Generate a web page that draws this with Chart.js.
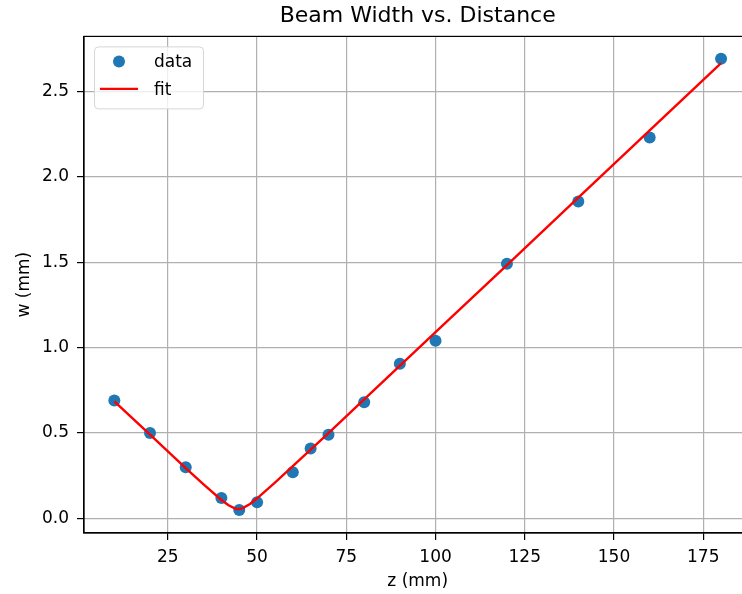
<!DOCTYPE html>
<html>
<head>
<meta charset="utf-8">
<script src="https://cdn.jsdelivr.net/npm/chart.js@4.4.1/dist/chart.umd.min.js"></script>
<style>
  html, body { margin: 0; padding: 0; background: #fff; overflow: hidden; }
  #wrap { width: 760px; height: 594px; }
</style>
</head>
<body>
<div id="wrap"><canvas id="grafico" width="760" height="594"></canvas></div>
<script>
// medidas: distancia z (mm) e largura do feixe w (mm)
const zDados = [10, 20, 30, 40, 45, 50, 60, 65, 70, 80, 90, 100, 120, 140, 160, 180];
const wDados = [0.69, 0.50, 0.30, 0.12, 0.05, 0.095, 0.27, 0.41, 0.49, 0.68, 0.905, 1.04, 1.49, 1.855, 2.23, 2.69];

// curva do ajuste
const zAjuste = [10, 20, 30, 35, 40, 42, 44, 45, 46, 48, 50, 55, 60, 70, 80, 100, 120, 140, 160, 180];
const wAjuste = [0.685, 0.49, 0.295, 0.20, 0.108, 0.077, 0.057, 0.055, 0.061, 0.085, 0.118, 0.21, 0.306, 0.50, 0.697, 1.09, 1.483, 1.877, 2.271, 2.665];

// ticks dos eixos
const xTicks = [25, 50, 75, 100, 125, 150, 175];
const yTicks = [0.0, 0.5, 1.0, 1.5, 2.0, 2.5];

const fonte = 'DejaVu Sans';

// moldura completa (matplotlib desenha os 4 lados)
const moldura = {
  id: 'moldura',
  afterDatasetsDraw(chart) {
    const { ctx, chartArea: a } = chart;
    ctx.save();
    ctx.strokeStyle = '#000';
    ctx.lineWidth = 1.2;
    ctx.strokeRect(a.left, a.top, a.right - a.left, a.bottom - a.top);
    ctx.restore();
  }
};

// legenda dentro da area do grafico, canto superior esquerdo
const legenda = {
  id: 'legenda',
  afterDraw(chart) {
    const { ctx, chartArea: a } = chart;
    const x0 = a.left + 10, y0 = a.top + 10, w = 109, h = 62;
    ctx.save();
    ctx.beginPath();
    ctx.roundRect(x0 + 0.5, y0 + 0.5, w, h, 4);
    ctx.fillStyle = 'rgba(255,255,255,0.8)';
    ctx.fill();
    ctx.strokeStyle = '#d6d6d6';
    ctx.lineWidth = 1;
    ctx.stroke();

    const ds = chart.data.datasets;
    // marcador dos dados
    ctx.beginPath();
    ctx.arc(x0 + 25, y0 + 15, 6, 0, Math.PI * 2);
    ctx.fillStyle = ds[0].backgroundColor;
    ctx.fill();
    // linha do ajuste
    ctx.beginPath();
    ctx.moveTo(x0 + 6, y0 + 42.5);
    ctx.lineTo(x0 + 44, y0 + 42.5);
    ctx.strokeStyle = ds[1].borderColor;
    ctx.lineWidth = 2.4;
    ctx.stroke();

    ctx.fillStyle = '#000';
    ctx.font = '17px "' + fonte + '"';
    ctx.textBaseline = 'middle';
    ctx.textAlign = 'left';
    ctx.fillText(ds[0].label, x0 + 60, y0 + 16);
    ctx.fillText(ds[1].label, x0 + 60, y0 + 44);
    ctx.restore();
  }
};

const ctx = document.getElementById('grafico').getContext('2d');
new Chart(ctx, {
  type: 'scatter',
  data: {
    datasets: [{
      label: 'data',
      data: zDados.map((z, i) => ({ x: z, y: wDados[i] })),
      backgroundColor: '#1f77b4',
      borderWidth: 0,
      pointRadius: 6,
      showLine: false,
      order: 1
    }, {
      label: 'fit',
      data: zAjuste.map((z, i) => ({ x: z, y: wAjuste[i] })),
      borderColor: '#ff0000',
      borderWidth: 2.4,
      pointRadius: 0,
      showLine: true,
      tension: 0,
      order: 0
    }]
  },
  options: {
    responsive: false,
    animation: false,
    layout: { padding: { left: 0, right: 8.6, top: 0, bottom: 0 } },
    plugins: {
      legend: { display: false },
      tooltip: { enabled: false },
      title: {
        display: true,
        fullSize: false, // centraliza sobre a area dos eixos
        text: 'Beam Width vs. Distance',
        color: '#000',
        font: { family: fonte, size: 22, weight: 'normal' },
        padding: { top: 3, bottom: 7 }
      }
    },
    scales: {
      x: { // horizontal
        type: 'linear',
        min: 1.5,
        max: 188.5,
        afterBuildTicks: s => { s.ticks = xTicks.map(v => ({ value: v })); },
        afterFit: s => { s.height = 61; },
        ticks: {
          color: '#000',
          font: { family: fonte, size: 17 },
          padding: 7,
          maxRotation: 0,
          callback: v => String(v)
        },
        grid: { color: '#b0b0b0', lineWidth: 1.2, tickColor: '#000', tickLength: 7, tickWidth: 1.2 },
        border: { display: true, color: '#000', width: 1.2 },
        title: {
          display: true,
          text: 'z (mm)',
          color: '#000',
          font: { family: fonte, size: 17 },
          padding: { top: 0, bottom: 2.5 }
        }
      },
      y: { // vertical
        type: 'linear',
        min: -0.085,
        max: 2.821,
        afterBuildTicks: s => { s.ticks = yTicks.map(v => ({ value: v })); },
        afterFit: s => { s.width = 84; },
        ticks: {
          color: '#000',
          font: { family: fonte, size: 17 },
          padding: 8,
          callback: v => v.toFixed(1)
        },
        grid: { color: '#b0b0b0', lineWidth: 1.2, tickColor: '#000', tickLength: 7, tickWidth: 1.2 },
        border: { display: true, color: '#000', width: 1.2 },
        title: {
          display: true,
          text: 'w (mm)',
          color: '#000',
          font: { family: fonte, size: 17 },
          padding: { top: 14, bottom: 0 }
        }
      }
    }
  },
  plugins: [moldura, legenda]
});
</script>
</body>
</html>
